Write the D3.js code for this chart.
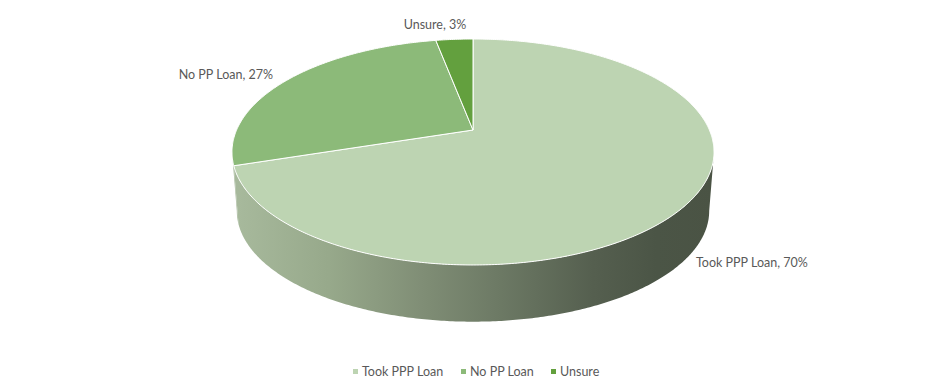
<!DOCTYPE html>
<html>
<head>
<meta charset="utf-8">
<script src="https://cdn.jsdelivr.net/npm/d3@7/dist/d3.min.js"></script>
<style>
  html, body { margin: 0; padding: 0; background: #ffffff; }
  svg { display: block; }
</style>
</head>
<body>
<svg id="chart" width="947" height="391"></svg>
<script>
// ---- Data ----
const categories = ["Took PPP Loan", "No PP Loan", "Unsure"];
const values = [70, 27, 3];
const labels = ["Took PPP Loan, 70%", "No PP Loan, 27%", "Unsure, 3%"];

// ---- Styles ----
const topColors = ["#bdd4b2", "#8cba79", "#63a03e"];

const svg = d3.select("#chart");

// perspective projection parameters for the pie's top and bottom rims
const cx = 473, cyTop = 130, A = 236.4, B = 108.7, p = 0.1947;
const cyBot = 189.4, A2 = A * 0.98, B2 = B * 0.98;

function proj(a, level) {
  const u = Math.sin(a), v = Math.cos(a);
  const w = 1 + p * v;
  if (level === "top") return [cx + A * u / w, cyTop - B * v / w];
  return [cx + A2 * u / w, cyBot - B2 * v / w];
}

const pie = d3.pie().sort(null).value(d => d).startAngle(0).endAngle(2 * Math.PI);
const arcs = pie(values);

function rimPoints(a0, a1, level) {
  const n = Math.max(2, Math.ceil(Math.abs(a1 - a0) / 0.01));
  const pts = [];
  for (let i = 0; i <= n; i++) pts.push(proj(a0 + (a1 - a0) * i / n, level));
  return pts;
}

const defs = svg.append("defs");
const grad = defs.append("linearGradient")
  .attr("id", "sideGrad").attr("gradientUnits", "userSpaceOnUse")
  .attr("x1", 232).attr("y1", 0).attr("x2", 714).attr("y2", 0);
[[0, "#a8ba9d"], [0.2, "#97a98b"], [0.4, "#7f8d75"], [0.55, "#6d7a65"], [0.75, "#555f4f"], [0.88, "#4b5546"], [1, "#4a5344"]]
  .forEach(([o, c]) => grad.append("stop").attr("offset", o).attr("stop-color", c));

// visible wall range (between silhouettes)
const silR = Math.PI - Math.atan2(Math.sqrt(1 - p * p), p);
const silL = 2 * Math.PI - silR;

const line = d3.line();
const gSide = svg.append("g");
arcs.forEach((d, i) => {
  const a0 = Math.max(d.startAngle, silR), a1 = Math.min(d.endAngle, silL);
  if (a1 <= a0) return;
  const pts = rimPoints(a0, a1, "top").concat(rimPoints(a1, a0, "bottom"));
  gSide.append("path")
    .attr("d", line(pts) + "Z")
    .attr("fill", "url(#sideGrad)")
    .attr("stroke", "none");
});

// top faces
const gTop = svg.append("g");
arcs.forEach((d, i) => {
  const pts = [[cx, cyTop]].concat(rimPoints(d.startAngle, d.endAngle, "top"));
  gTop.append("path")
    .attr("d", line(pts) + "Z")
    .attr("fill", topColors[i])
    .attr("stroke", "#ffffff")
    .attr("stroke-width", 1)
    .attr("stroke-linejoin", "round");
});

// data labels
const labelPos = [
  { x: 696, y: 267, anchor: "start" },
  { x: 273, y: 79, anchor: "end" },
  { x: 435, y: 29, anchor: "middle" }
];
const gLab = svg.append("g")
  .attr("font-family", "Lato, 'Open Sans', sans-serif")
  .attr("font-size", 12.5)
  .attr("fill", "#595959");
labels.forEach((t, i) => {
  gLab.append("text")
    .attr("x", labelPos[i].x).attr("y", labelPos[i].y)
    .attr("text-anchor", labelPos[i].anchor)
    .text(t);
});

// legend
const legendX = [353, 461, 551];
const gLeg = svg.append("g")
  .attr("font-family", "Lato, 'Open Sans', sans-serif")
  .attr("font-size", 12.5)
  .attr("fill", "#595959");
categories.forEach((c, i) => {
  gLeg.append("rect")
    .attr("x", legendX[i]).attr("y", 369)
    .attr("width", 5).attr("height", 5)
    .attr("fill", topColors[i]);
  gLeg.append("text")
    .attr("x", legendX[i] + 9).attr("y", 376)
    .text(c);
});
</script>
</body>
</html>
